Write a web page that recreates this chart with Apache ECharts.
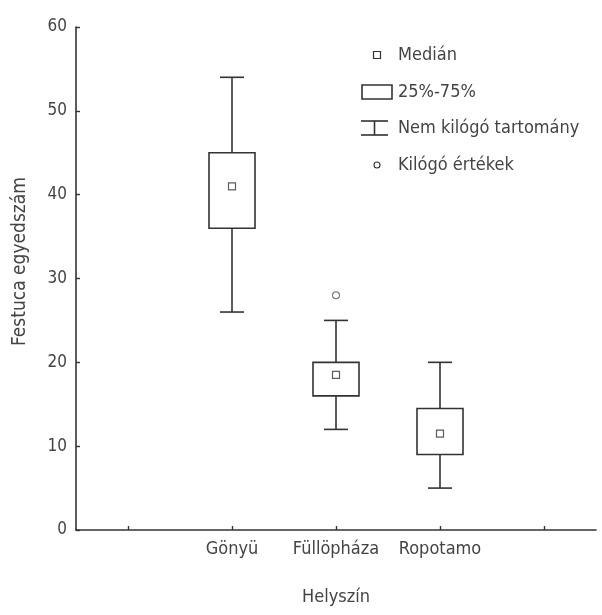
<!DOCTYPE html>
<html>
<head>
<meta charset="utf-8">
<title>Festuca egyedszám helyszínenként</title>
<script src="https://cdn.jsdelivr.net/npm/echarts@6/dist/echarts.min.js"></script>
<style>
  html, body { margin: 0; padding: 0; background: #fff; }
  #chart { width: 602px; height: 615px; }
</style>
</head>
<body>
<div id="chart"></div>
<script>
// Sampling sites and their distribution summaries (Festuca counts)
const sites = ['Gönyü', 'Füllöpháza', 'Ropotamo'];
const whiskerLow = [26, 12, 5];
const q1 = [36, 16, 9];
const median = [41, 18.5, 11.5];
const q3 = [45, 20, 14.5];
const whiskerHigh = [54, 25, 20];
const outlierSites = ['Füllöpháza'];
const outlierValues = [28];
const yTicks = [0, 10, 20, 30, 40, 50, 60];

// Category axis with an empty slot on each side of the three sites
const categories = [''].concat(sites, [' ']);
const idx = name => categories.indexOf(name);

const FONT = "'Liberation Sans Narrow', 'DejaVu Sans Condensed', 'Noto Sans', sans-serif";
const INK = '#333';
const TEXT = '#444';

const boxData = sites.map((s, i) => [idx(s), whiskerLow[i], q1[i], median[i], q3[i], whiskerHigh[i]]);
const medianData = sites.map((s, i) => [idx(s), median[i]]);
const outlierData = outlierSites.map((s, i) => [idx(s), outlierValues[i]]);

const lineStyle = { stroke: INK, lineWidth: 1.6, fill: null };

function renderWhisker(params, api) {
  const x = api.value(0);
  const lo = api.coord([x, api.value(1)]);
  const b1 = api.coord([x, api.value(2)]);
  const b3 = api.coord([x, api.value(4)]);
  const hi = api.coord([x, api.value(5)]);
  const cap = 12;
  return {
    type: 'group',
    children: [
      { type: 'line', shape: { x1: hi[0], y1: hi[1], x2: b3[0], y2: b3[1] }, style: lineStyle },
      { type: 'line', shape: { x1: lo[0], y1: lo[1], x2: b1[0], y2: b1[1] }, style: lineStyle },
      { type: 'line', shape: { x1: hi[0] - cap, y1: hi[1], x2: hi[0] + cap, y2: hi[1] }, style: lineStyle },
      { type: 'line', shape: { x1: lo[0] - cap, y1: lo[1], x2: lo[0] + cap, y2: lo[1] }, style: lineStyle }
    ]
  };
}

function renderBox(params, api) {
  const x = api.value(0);
  const b1 = api.coord([x, api.value(2)]);
  const b3 = api.coord([x, api.value(4)]);
  const half = 23;
  return {
    type: 'rect',
    shape: { x: b3[0] - half, y: b3[1], width: half * 2, height: b1[1] - b3[1] },
    style: { stroke: INK, lineWidth: 1.6, fill: '#fff' }
  };
}

// Legend drawn as a small block of icons and labels
const legendX = 398;
const legendRows = [55, 92, 128, 165];
const legendTexts = ['Medián', '25%-75%', 'Nem kilógó tartomány', 'Kilógó értékek'];
const legendGraphics = [
  { type: 'rect', shape: { x: 373.5, y: legendRows[0] - 3.5, width: 7, height: 7 },
    style: { stroke: INK, lineWidth: 1.2, fill: '#fff' } },
  { type: 'rect', shape: { x: 362, y: legendRows[1] - 7, width: 30, height: 14 },
    style: { stroke: INK, lineWidth: 1.6, fill: '#fff' } },
  { type: 'line', shape: { x1: 361, y1: legendRows[2] - 7, x2: 388, y2: legendRows[2] - 7 }, style: lineStyle },
  { type: 'line', shape: { x1: 361, y1: legendRows[2] + 7, x2: 388, y2: legendRows[2] + 7 }, style: lineStyle },
  { type: 'line', shape: { x1: 374.5, y1: legendRows[2] - 7, x2: 374.5, y2: legendRows[2] + 7 }, style: lineStyle },
  { type: 'circle', shape: { cx: 377, cy: legendRows[3], r: 3 },
    style: { stroke: INK, lineWidth: 1.1, fill: '#fff' } }
].concat(legendTexts.map((t, i) => ({
  type: 'text',
  x: legendX, y: legendRows[i],
  style: { text: t, font: '18px ' + FONT, fill: TEXT, verticalAlign: 'middle', align: 'left' }
})));

const chart = echarts.init(document.getElementById('chart'), null, { renderer: 'canvas' });
chart.setOption({
  backgroundColor: '#fff',
  animation: false,
  grid: { left: 76, top: 27, bottom: 85, width: 520 },
  xAxis: {
    type: 'category',
    data: categories,
    boundaryGap: true,
    name: 'Helyszín',
    nameLocation: 'middle',
    nameGap: 58,
    nameTextStyle: { fontFamily: FONT, fontSize: 18, color: TEXT },
    axisLine: { lineStyle: { color: INK, width: 1.6 } },
    axisTick: { show: true, alignWithLabel: true, inside: true, length: 4, lineStyle: { color: INK, width: 1.4 } },
    axisLabel: { fontFamily: FONT, fontSize: 18, color: TEXT, margin: 10, interval: 0 },
    splitLine: { show: false }
  },
  yAxis: {
    type: 'value',
    min: yTicks[0],
    max: yTicks[yTicks.length - 1],
    interval: yTicks[1] - yTicks[0],
    name: 'Festuca egyedszám',
    nameLocation: 'middle',
    nameRotate: 90,
    nameGap: 46,
    nameTextStyle: { fontFamily: FONT, fontSize: 19, color: TEXT, padding: [0, 0, 0, 34] },
    axisLine: { show: true, lineStyle: { color: INK, width: 1.6 } },
    axisTick: { show: true, inside: true, length: 4, lineStyle: { color: INK, width: 1.4 } },
    axisLabel: { fontFamily: FONT, fontSize: 17, color: TEXT, margin: 9 },
    splitLine: { show: false }
  },
  series: [
    {
      name: 'Nem kilógó tartomány',
      type: 'custom',
      renderItem: renderWhisker,
      encode: { x: 0, y: [1, 2, 3, 4, 5] },
      data: boxData,
      z: 2
    },
    {
      name: '25%-75%',
      type: 'custom',
      renderItem: renderBox,
      encode: { x: 0, y: [1, 2, 3, 4, 5] },
      data: boxData,
      z: 3
    },
    {
      name: 'Medián',
      type: 'scatter',
      symbol: 'rect',
      symbolSize: 7,
      itemStyle: { color: '#fff', borderColor: INK, borderWidth: 1.2 },
      data: medianData,
      z: 4
    },
    {
      name: 'Kilógó értékek',
      type: 'scatter',
      symbol: 'circle',
      symbolSize: 7,
      itemStyle: { color: '#fff', borderColor: '#555', borderWidth: 1.1 },
      data: outlierData,
      z: 4
    }
  ],
  graphic: legendGraphics
});
</script>
</body>
</html>
